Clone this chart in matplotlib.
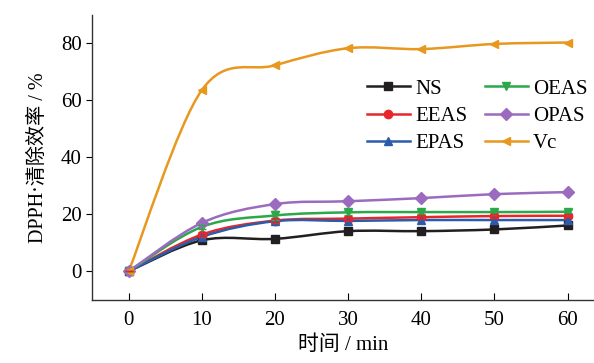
import numpy as np
import matplotlib.pyplot as plt
from matplotlib.path import Path
from matplotlib.patches import PathPatch
from matplotlib.lines import Line2D

plt.rcParams['font.family'] = ['Liberation Serif', 'Noto Sans CJK SC']
plt.rcParams['axes.unicode_minus'] = False

# data
t = [0, 10, 20, 30, 40, 50, 60]
ns = [0, 10.9, 11.4, 14.1, 14.1, 14.7, 16.1]
eeas = [0, 12.9, 17.8, 18.5, 19.0, 19.4, 19.5]
epas = [0, 12.1, 17.6, 17.7, 18.0, 18.0, 18.0]
oeas = [0, 15.6, 19.6, 20.7, 20.8, 20.8, 20.9]
opas = [0, 17.0, 23.6, 24.6, 25.7, 27.1, 27.8]
vc = [0, 63.6, 72.3, 78.3, 78.0, 79.8, 80.3]
err_oeas = [0, 0.8, 1.5, 0.8, 0.7, 0.7, 0.6]
err_eeas = [0, 0.8, 0.8, 0.8, 0.6, 0.6, 0.5]

series = [
    ('NS', ns, '#231f20', 's'),
    ('EEAS', eeas, '#e8262a', 'o'),
    ('EPAS', epas, '#2a5caa', '^'),
    ('OEAS', oeas, '#2aa84a', 'v'),
    ('OPAS', opas, '#9b6bbf', 'D'),
    ('Vc', vc, '#e8981e', '<'),
]


def smooth_path(x, y, k=1/6):
    # Catmull-Rom style bezier through the points
    x = np.asarray(x, float)
    y = np.asarray(y, float)
    verts = [(x[0], y[0])]
    codes = [Path.MOVETO]
    n = len(x)
    for i in range(n - 1):
        i0 = max(i - 1, 0)
        i3 = min(i + 2, n - 1)
        c1 = (x[i] + (x[i+1] - x[i0]) * k, y[i] + (y[i+1] - y[i0]) * k)
        c2 = (x[i+1] - (x[i3] - x[i]) * k, y[i+1] - (y[i3] - y[i]) * k)
        verts += [c1, c2, (x[i+1], y[i+1])]
        codes += [Path.CURVE4] * 3
    return Path(verts, codes)


fig = plt.figure(figsize=(5.94, 3.63), dpi=100)
ax = fig.add_axes([0.155, 0.174, 0.845, 0.785])

handles = []
for name, vals, col, mk in series:
    ax.add_patch(PathPatch(smooth_path(t, vals), fc='none', ec=col, lw=1.8, zorder=2))
    ax.plot(t, vals, ls='none', marker=mk, color=col, ms=6, zorder=3)
    handles.append(Line2D([], [], color=col, lw=1.8, marker=mk, ms=6))

ax.errorbar(t, oeas, yerr=err_oeas, fmt='none', ecolor='#2aa84a', elinewidth=0.8, capsize=3, zorder=3)
ax.errorbar(t, eeas, yerr=err_eeas, fmt='none', ecolor='#e8262a', elinewidth=0.8, capsize=3, zorder=3)

ax.set_xlim(-5, 63.6)
ax.set_ylim(-10, 90)
ax.set_xticks(t)
ax.set_yticks([0, 20, 40, 60, 80])
ax.spines['top'].set_visible(False)
ax.spines['right'].set_visible(False)
for s in ['left', 'bottom']:
    ax.spines[s].set_linewidth(1.0)
    ax.spines[s].set_color('#333333')
ax.tick_params(axis='x', direction='in', length=5, labelsize=15, pad=8)
ax.tick_params(axis='y', direction='out', length=4, labelsize=15)

ax.set_xlabel('时间 / min', fontsize=15, labelpad=4)
ax.set_ylabel('DPPH·清除效率 / %', fontsize=14.5, labelpad=9)

ax.legend(handles, [s[0] for s in series],
          ncol=2, loc='upper left', bbox_to_anchor=(0.548, 0.775), frameon=False,
          fontsize=15, handlelength=2.05, handletextpad=0.25, columnspacing=0.85,
          labelspacing=0.37, borderaxespad=0, borderpad=0)

fig.savefig('out.png', dpi=100)
